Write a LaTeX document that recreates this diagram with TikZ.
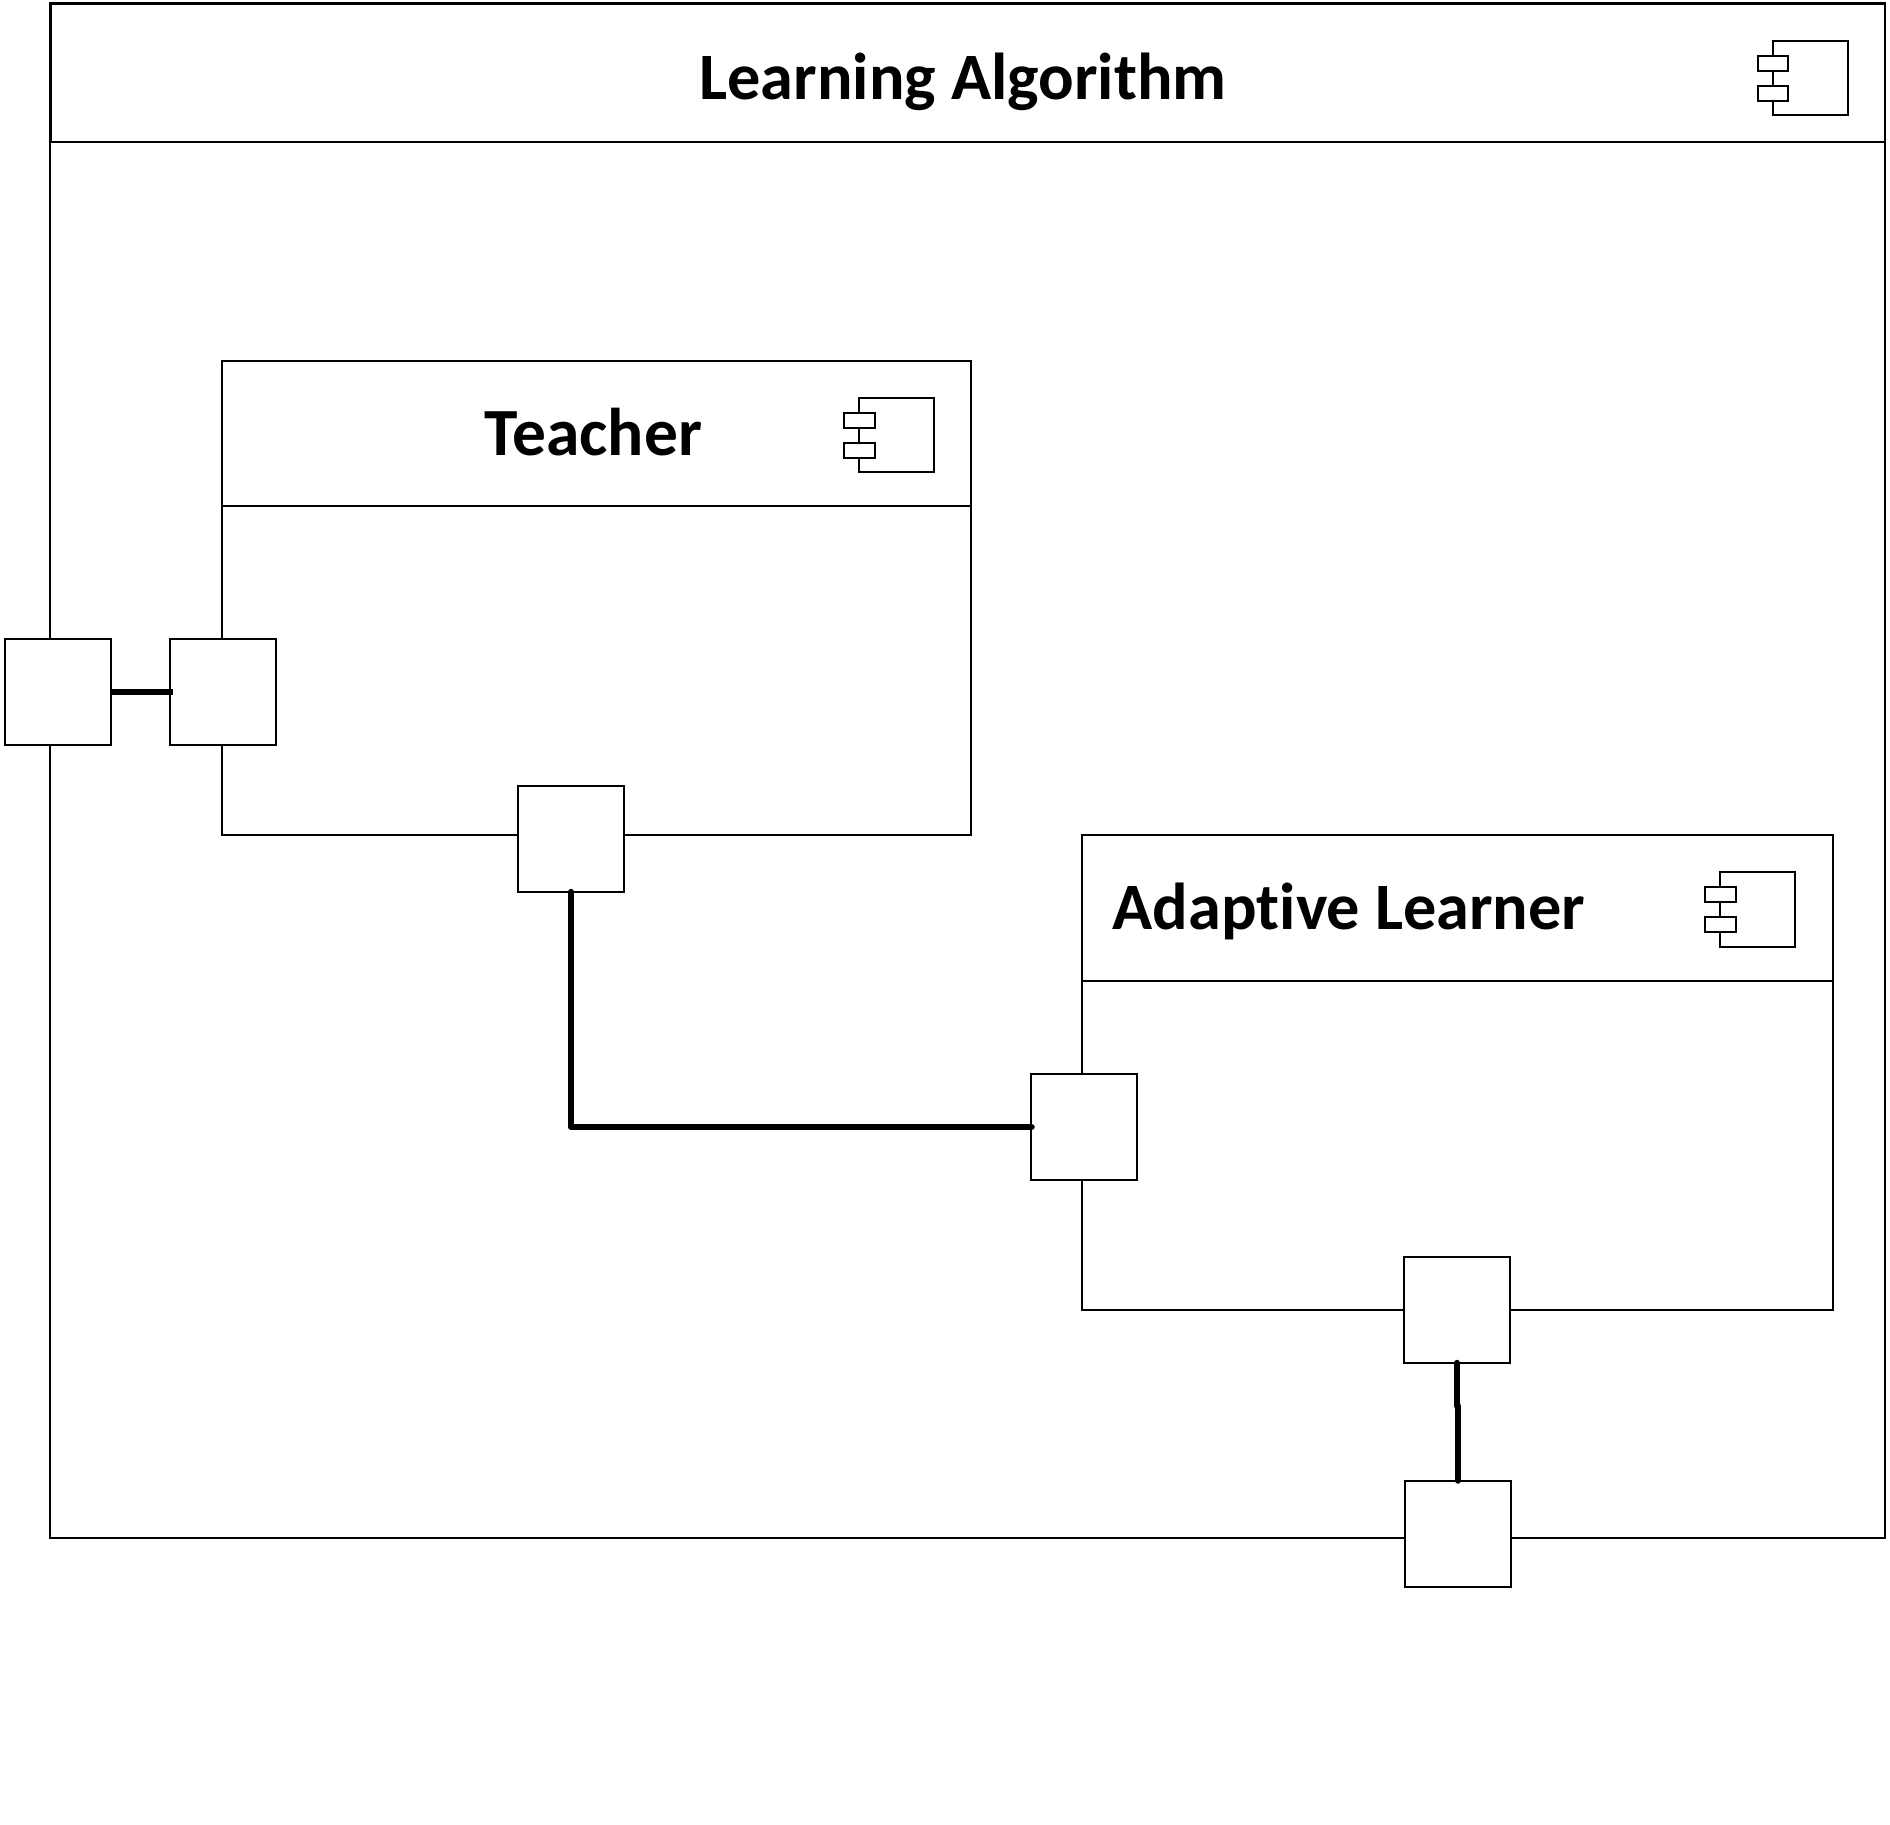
\documentclass[tikz,border=0pt]{standalone}
\usepackage{fontspec}
\setmainfont[Ligatures=NoCommon,RawFeature={-liga;-dlig}]{Carlito}
\tikzset{
  x=1pt,y=-1pt,
  thin box/.style={draw=black,fill=white,line width=2pt,rectangle,inner sep=0pt,outer sep=0pt,line join=miter},
  port/.style={thin box,minimum width=106pt,minimum height=106pt},
  title/.style={font=\bfseries\fontsize{66.3}{80}\selectfont,anchor=base,inner sep=0pt,text=black},
  wire/.style={draw=black,line width=6.5pt,line cap=round,line join=round},
}
% #1 name, #2 left, #3 top, #4 right, #5 bottom, #6 title rule y
\newcommand\compbox[6]{%
  \path[thin box] (#2,#3) rectangle (#4,#5);
  \node[thin box,anchor=north west,minimum width={#4-(#2)},minimum height={#6-(#3)}] (#1) at (#2,#3) {};
}
% #1 name, #2 body right, #3 body top
\newcommand\compicon[3]{%
  \node[thin box,anchor=north east,minimum width=75pt,minimum height=74.5pt] (#1body) at (#2,#3) {};
  \node[thin box,anchor=north west,minimum width=30.5pt,minimum height=15pt] (#1taba) at ([xshift=-15pt,yshift=-15pt]#1body.north west) {};
  \node[thin box,anchor=north west,minimum width=30.5pt,minimum height=15pt] (#1tabb) at ([xshift=-15pt,yshift=-45pt]#1body.north west) {};
}
\begin{document}
\begin{tikzpicture}
\path[fill=white,use as bounding box] (0,0) rectangle (1890,1825);

\compbox{outer}{49.5}{3.5}{1885}{1537.5}{142.5}
\draw[line width=3pt] (50.5,3.5) -- (1885,3.5);
\draw[line width=2.2pt] (50.5,3.5) -- (50.5,142.5);
\compicon{outericon}{1847.5}{41}
\node[title] (outertitle) at (963,99.5) {Learning Algorithm};

\compbox{teacher}{221.5}{360.5}{971}{835}{505.5}
\compicon{teachericon}{934}{397.5}
\node[title,font=\bfseries\fontsize{67.5}{80}\selectfont] (teachertitle) at (593.5,455) {Teacher};

\compbox{learner}{1081.5}{834.5}{1832.5}{1309.5}{980.5}
\compicon{learnericon}{1795}{872}
\node[title] (learnertitle) at (1349,929) {Adaptive Learner};

\node[port] (portleft) at (58,691.75) {};
\node[port] (portteacher) at (223,691.75) {};
\node[port] (portteacherb) at (571,839) {};
\node[port] (portlearnerl) at (1083.5,1127) {};
\node[port] (portlearnerb) at (1457,1310) {};
\node[port] (portouter) at (1458,1533.5) {};

\coordinate (jogup) at (1457,1406);
\coordinate (jogdown) at (1458,1406);

\draw[wire,line cap=butt] (portleft.east) -- ([xshift=3pt]portteacher.west);
\draw[wire] (portteacherb.south) |- ([xshift=1pt]portlearnerl.west);
\draw[wire] (portlearnerb.south) -- (jogup);
\draw[wire] (jogdown) -- (portouter.north);
\end{tikzpicture}
\end{document}
